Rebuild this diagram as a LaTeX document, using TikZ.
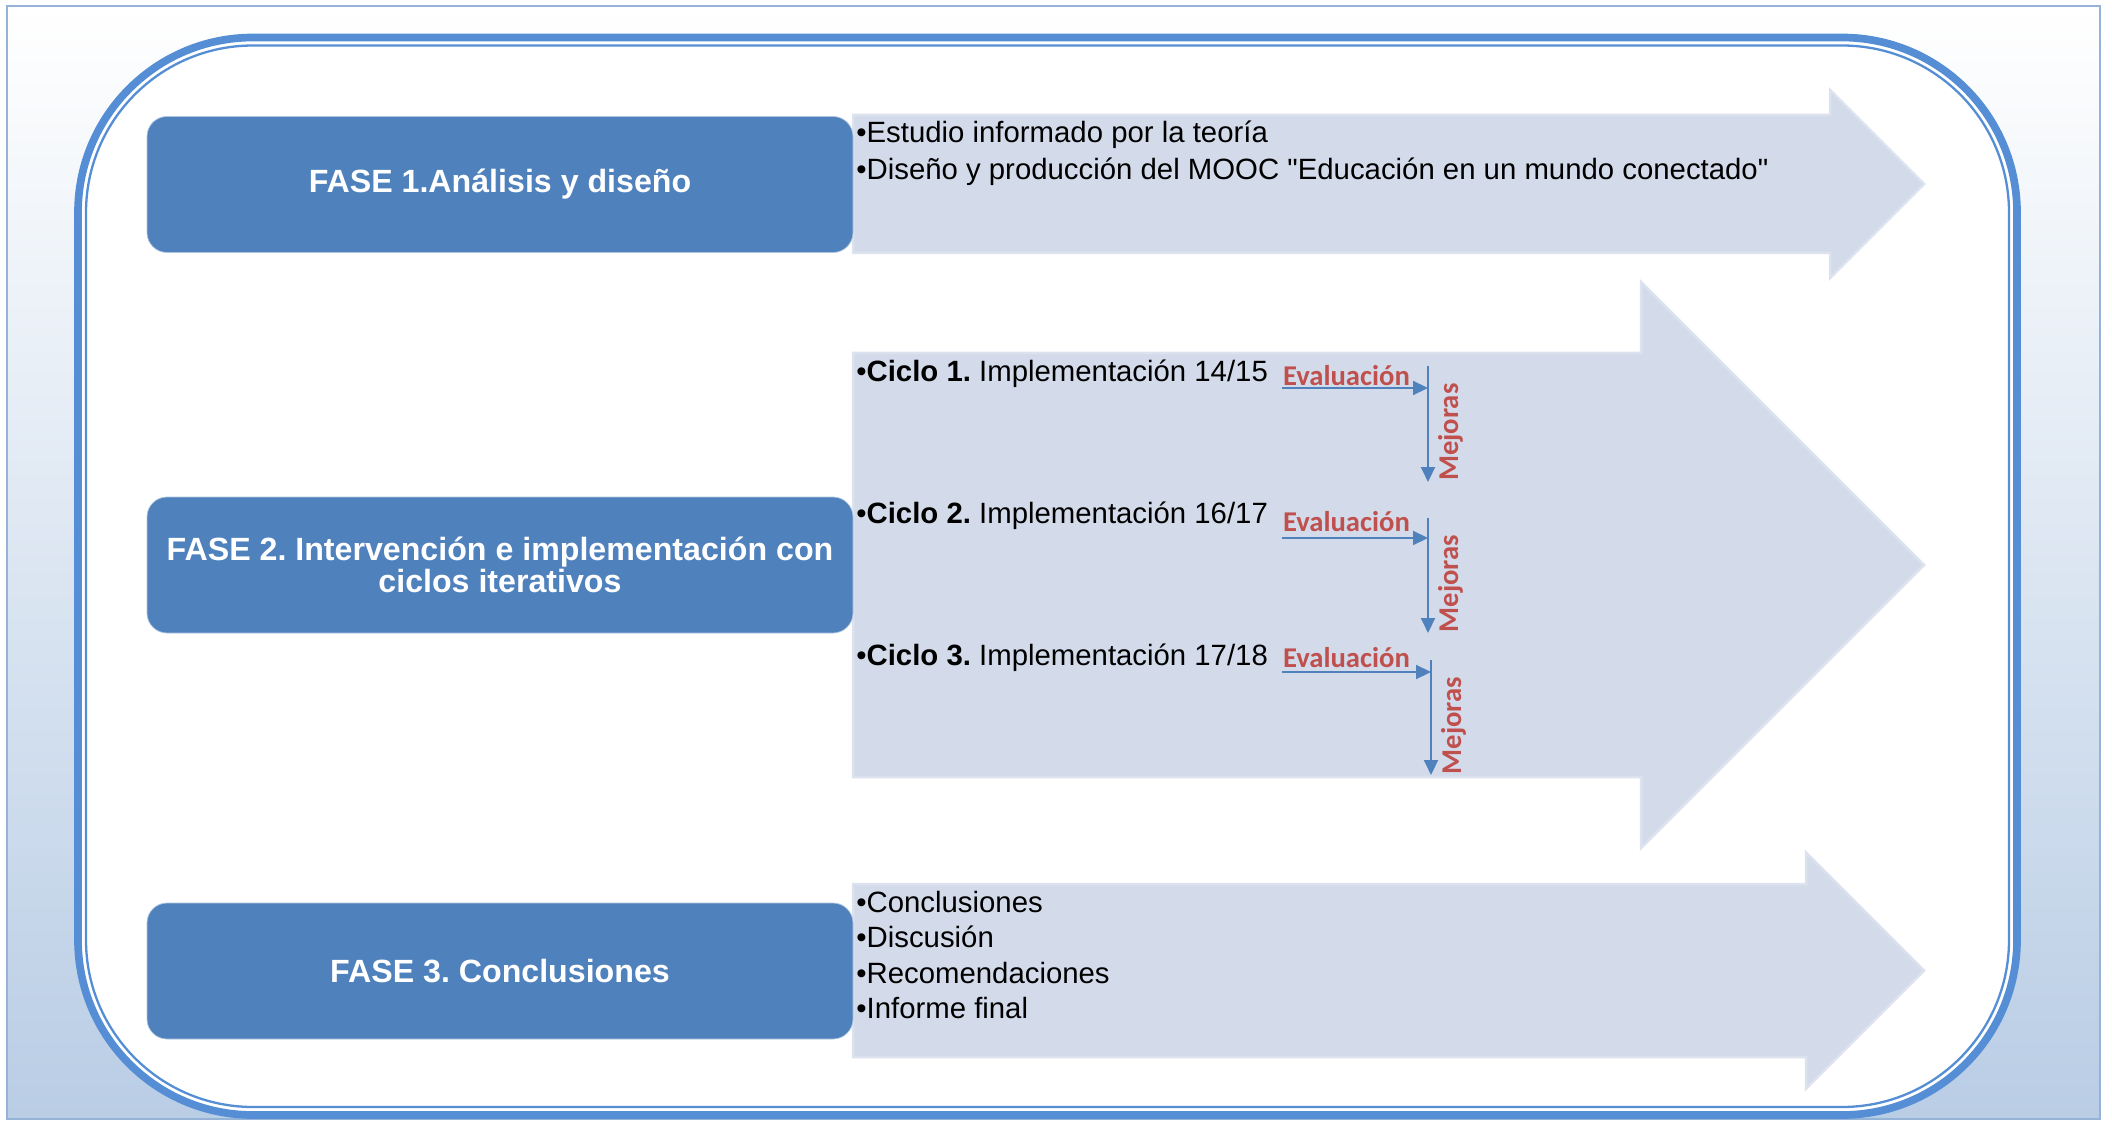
\documentclass[tikz,border=0pt]{standalone}
\usepackage{fontspec}
\newfontfamily\arial{Liberation Sans}
\newfontfamily\calibri{Carlito}
\usetikzlibrary{arrows.meta,positioning}
\frenchspacing
\definecolor{phasefill}{HTML}{4F81BD}
\definecolor{arrowfill}{HTML}{D3DBEA}
\definecolor{arrowedge}{HTML}{DCE2EE}
\definecolor{ringblue}{HTML}{558ED5}
\definecolor{framebg}{HTML}{B9CDE5}
\definecolor{frameedge}{HTML}{95B3D7}
\definecolor{evalred}{HTML}{C0504D}
\colorlet{flowblue}{phasefill}

\begin{document}
\begin{tikzpicture}[
    phase/.style={draw=white!55!phasefill, fill=phasefill, rounded corners=0.4cm,
                  minimum width=14.12cm, minimum height=2.72cm, align=center,
                  text=white, inner sep=0pt,
                  font=\arial\fontsize{18.3}{18.5}\selectfont\bfseries},
    item/.style={anchor=base west, inner sep=0pt,
                 font=\arial\fontsize{16.7}{20}\selectfont},
    band/.style={fill=arrowfill, draw=arrowedge, line width=0.05cm},
    evl/.style={font=\calibri\fontsize{16.3}{19}\selectfont\bfseries,
                text=evalred, inner sep=0pt},
    mej/.style={evl, rotate=90, anchor=north, inner sep=0.18cm, pos=0.57},
    flow/.style={draw=flowblue, line width=0.04cm,
                 -{Triangle[length=0.3cm, width=0.28cm]}}
  ]
  \useasboundingbox (0,0) rectangle (42.24,-22.44);

  \shade[top color=white, bottom color=framebg] (0.14,-0.12) rectangle (42.0,-22.38);
  \draw[frameedge, line width=0.05cm] (0.14,-0.12) rectangle (42.0,-22.38);

  \draw[ringblue, line width=0.154cm, fill=white, rounded corners=3.5cm]
    (1.56,-0.75) rectangle (40.34,-22.30);
  \draw[ringblue, line width=0.046cm, rounded corners=3.34cm]
    (1.72,-0.91) rectangle (40.18,-22.14);

  \draw[band] (17.06,-2.30) -- (36.6,-2.30) -- (36.6,-1.80) -- (38.48,-3.68)
    -- (36.6,-5.56) -- (36.6,-5.06) -- (17.06,-5.06) -- cycle;
  \draw[band] (17.06,-7.06) -- (32.82,-7.06) -- (32.82,-5.64) -- (38.48,-11.30)
    -- (32.82,-16.96) -- (32.82,-15.54) -- (17.06,-15.54) -- cycle;
  \draw[band] (17.06,-17.68) -- (36.12,-17.68) -- (36.12,-17.05) -- (38.48,-19.41)
    -- (36.12,-21.77) -- (36.12,-21.14) -- (17.06,-21.14) -- cycle;

  \node[phase] (fase1) at (10.0,-3.69) {FASE 1.Análisis y diseño};
  \node[phase] (fase2) at (10.0,-11.30)
    {FASE 2. Intervención e implementación con\\ciclos iterativos};
  \node[phase] (fase3) at (10.0,-19.42) {FASE 3. Conclusiones};

  \node[item] (estudio) at (17.12,-2.86) {•Estudio informado por la teoría};
  \node[item] (diseno) at (17.12,-3.60)
    {•Diseño y producción del MOOC "Educación en un mundo conectado"};

  \node[item] (ciclo1) at (17.12,-7.64) {•\textbf{Ciclo 1.} Implementación 14/15};
  \node[item] (ciclo2) at (17.12,-10.46) {•\textbf{Ciclo 2.} Implementación 16/17};
  \node[item] (ciclo3) at (17.12,-13.30) {•\textbf{Ciclo 3.} Implementación 17/18};

  \node[item] (concl) at (17.12,-18.24) {•Conclusiones};
  \node[item] (discu) at (17.12,-18.94) {•Discusión};
  \node[item] (recom) at (17.12,-19.66) {•Recomendaciones};
  \node[item] (informe) at (17.12,-20.36) {•Informe final};

  \coordinate (e1) at (25.64,-7.76);
  \coordinate (m1) at (28.56,-7.32);
  \coordinate (n1) at (28.56,-9.64);
  \draw[flow] (e1) -- node[evl, pos=0, anchor=base west, yshift=0.04cm] (eval1)
    {Evaluación} (e1 -| m1);
  \draw[flow] (m1) -- node[mej] (mejora1) {Mejoras} (n1);

  \coordinate (e2) at (25.64,-10.76);
  \coordinate (m2) at (28.56,-10.36);
  \coordinate (n2) at (28.56,-12.66);
  \draw[flow] (e2) -- node[evl, pos=0, anchor=base west, yshift=0.14cm] (eval2)
    {Evaluación} (e2 -| m2);
  \draw[flow] (m2) -- node[mej] (mejora2) {Mejoras} (n2);

  \coordinate (e3) at (25.64,-13.44);
  \coordinate (m3) at (28.62,-13.20);
  \coordinate (n3) at (28.62,-15.50);
  \draw[flow] (e3) -- node[evl, pos=0, anchor=base west, yshift=0.10cm] (eval3)
    {Evaluación} (e3 -| m3);
  \draw[flow] (m3) -- node[mej] (mejora3) {Mejoras} (n3);
\end{tikzpicture}
\end{document}
